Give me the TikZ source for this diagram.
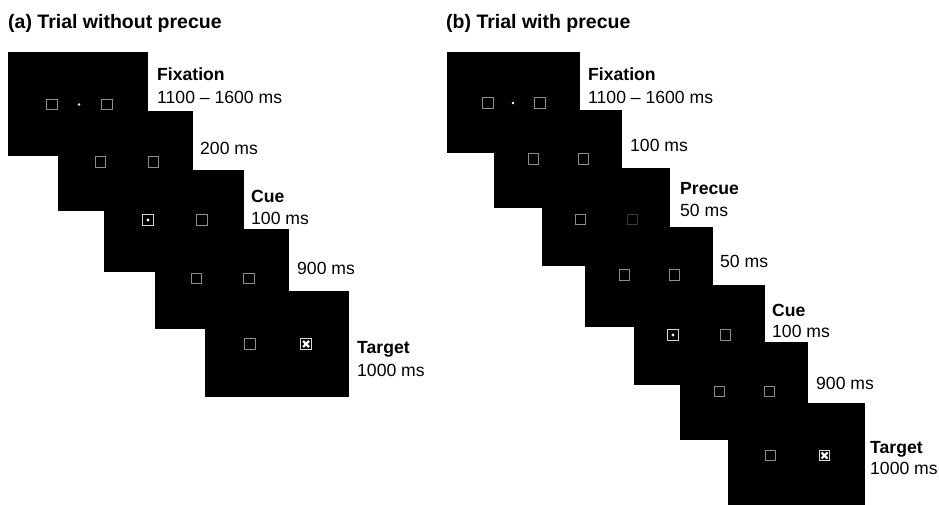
\documentclass[tikz,border=0pt]{standalone}
\usepackage{fontspec}
\setmainfont{Liberation Sans}
\definecolor{boxgray}{HTML}{8C8C8C}
\definecolor{dimgray}{HTML}{3A3A3A}
\definecolor{cuegray}{HTML}{D8D8D8}
\begin{document}
\begin{tikzpicture}[x=1pt,y=-1pt,
  frame/.style={fill=black},
  sq/.style={draw=boxgray, line width=1.1pt, minimum size=10.5pt, inner sep=0pt, shape=rectangle},
  cuesq/.style={sq, draw=cuegray},
  dimsq/.style={sq, draw=dimgray},
  tgtsq/.style={sq, draw=cuegray},
  xmark/.style={draw=white, line width=2.3pt},
  dotmark/.style={fill=white},
  lbl/.style={anchor=base west, inner sep=0pt, font=\fontsize{17.6}{20}\selectfont},
  blbl/.style={anchor=base west, inner sep=0pt, font=\fontsize{17.6}{20}\selectfont\bfseries},
  ttl/.style={anchor=base west, inner sep=0pt, font=\fontsize{19.5}{22}\selectfont\bfseries}]
\useasboundingbox (0,0) rectangle (939,505);
\fill[white] (0,0) rectangle (939,505);
% titles
\node[ttl] (ta) at (8,28.5) {(a) Trial without precue};
\node[ttl] (tb) at (446,28.5) {(b) Trial with precue};
% ---- panel (a) frames
\path[frame] (8,52) rectangle (148,156);
\path[frame] (58,111) rectangle (193,211);
\path[frame] (104,170) rectangle (244,272);
\path[frame] (155,229) rectangle (289,329);
\path[frame] (205,291) rectangle (349,397);
% ---- panel (b) frames
\path[frame] (447,52) rectangle (580,153);
\path[frame] (494,110) rectangle (622,208);
\path[frame] (542,168) rectangle (670,266);
\path[frame] (585,227) rectangle (713,327);
\path[frame] (634,285) rectangle (765,385);
\path[frame] (680,342) rectangle (808,440);
\path[frame] (728,403) rectangle (865,505);
% ---- panel (a) placeholders
\node[sq] (a1l) at (52,104.5) {};
\node[sq] (a1r) at (107,104.5) {};
\fill[dotmark] (79,104.5) circle (1.3);
\node[sq] (a2l) at (100.5,162) {};
\node[sq] (a2r) at (153.5,162) {};
\node[cuesq] (a3l) at (148,220) {};
\fill[dotmark] (a3l.center) circle (1.6);
\node[sq] (a3r) at (202,220) {};
\node[sq] (a4l) at (196.5,278.5) {};
\node[sq] (a4r) at (249,278.5) {};
\node[sq] (a5l) at (250,344) {};
\node[tgtsq] (a5r) at (306,344) {};
\draw[xmark] ([shift={(-3,-3)}]a5r.center) -- ([shift={(3,3)}]a5r.center);
\draw[xmark] ([shift={(-3,3)}]a5r.center) -- ([shift={(3,-3)}]a5r.center);
% ---- panel (b) placeholders
\node[sq] (b1l) at (488,103) {};
\node[sq] (b1r) at (540,103) {};
\fill[dotmark] (513,103) circle (1.3);
\node[sq] (b2l) at (533.5,159) {};
\node[sq] (b2r) at (583.5,159) {};
\node[sq] (b3l) at (580.5,219.5) {};
\node[dimsq] (b3r) at (632.5,219.5) {};
\node[sq] (b4l) at (624.5,275) {};
\node[sq] (b4r) at (674.5,275) {};
\node[cuesq] (b5l) at (673,335) {};
\fill[dotmark] (b5l.center) circle (1.6);
\node[sq] (b5r) at (725.5,335) {};
\node[sq] (b6l) at (719.5,391.5) {};
\node[sq] (b6r) at (769.5,391.5) {};
\node[sq] (b7l) at (770.5,455.5) {};
\node[tgtsq] (b7r) at (824.5,455.5) {};
\draw[xmark] ([shift={(-3,-3)}]b7r.center) -- ([shift={(3,3)}]b7r.center);
\draw[xmark] ([shift={(-3,3)}]b7r.center) -- ([shift={(3,-3)}]b7r.center);
% ---- panel (a) labels
\node[blbl] (la1) at (157,80.5) {Fixation};
\node[lbl] (la1t) at (157,103.5) {1100 – 1600 ms};
\node[lbl] (la2t) at (200,154.5) {200 ms};
\node[blbl] (la3) at (251,202) {Cue};
\node[lbl] (la3t) at (251,224.5) {100 ms};
\node[lbl] (la4t) at (297,274.5) {900 ms};
\node[blbl] (la5) at (357,353.5) {Target};
\node[lbl] (la5t) at (357,376.5) {1000 ms};
% ---- panel (b) labels
\node[blbl] (lb1) at (588,80.5) {Fixation};
\node[lbl] (lb1t) at (588,103.5) {1100 – 1600 ms};
\node[lbl] (lb2t) at (630,151.5) {100 ms};
\node[blbl] (lb3) at (680,194.5) {Precue};
\node[lbl] (lb3t) at (680,216.5) {50 ms};
\node[lbl] (lb4t) at (720,267.5) {50 ms};
\node[blbl] (lb5) at (772,316.5) {Cue};
\node[lbl] (lb5t) at (772,337.5) {100 ms};
\node[lbl] (lb6t) at (816,389.5) {900 ms};
\node[blbl] (lb7) at (870,453.5) {Target};
\node[lbl] (lb7t) at (870,474.5) {1000 ms};
\end{tikzpicture}
\end{document}
